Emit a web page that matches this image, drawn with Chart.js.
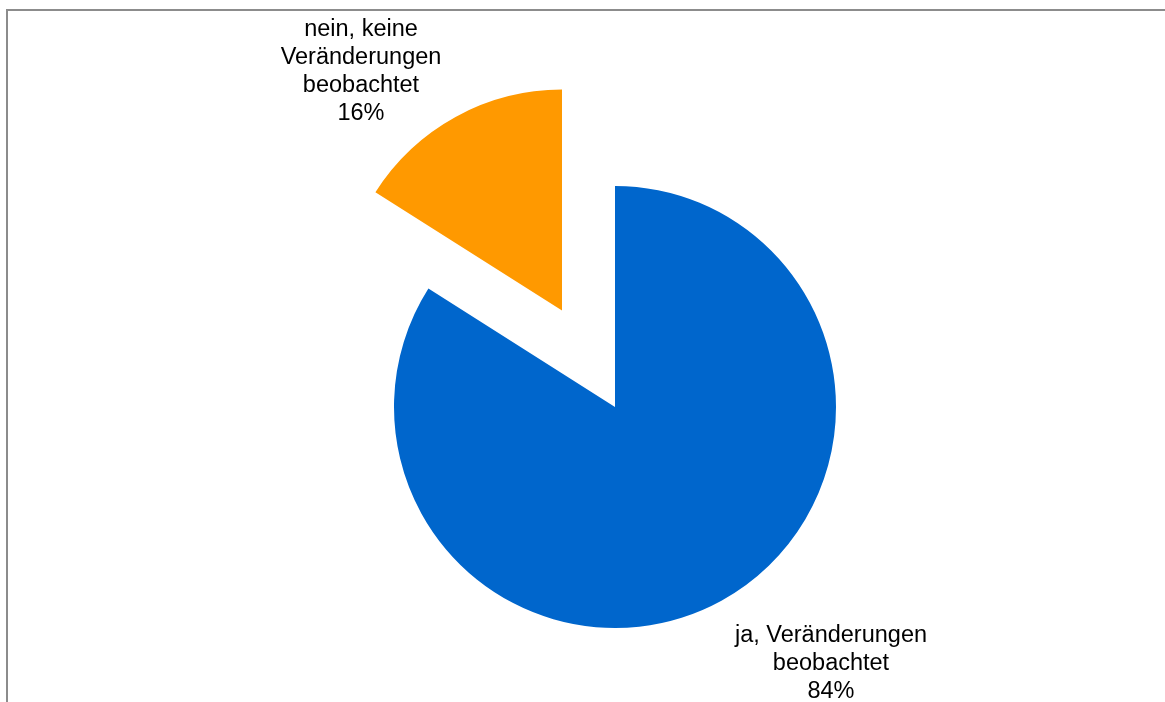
<!DOCTYPE html>
<html>
<head>
<meta charset="utf-8">
<script src="https://cdn.jsdelivr.net/npm/chart.js@4/dist/chart.umd.min.js"></script>
<style>
    html, body { margin: 0; padding: 0; background: #fff; overflow: hidden; }
    #wrap { position: relative; width: 1165px; height: 702px; }
    #frame {
        position: absolute; left: 6px; top: 9px; width: 1200px; height: 720px;
        border-left: 2px solid #8c8c8c; border-top: 2px solid #8c8c8c;
        pointer-events: none;
    }
    canvas { position: absolute; left: 0; top: 0; }
</style>
</head>
<body>
<div id="wrap">
    <canvas id="pieChart" width="1165" height="702"></canvas>
    <div id="frame"></div>
</div>
<script>
const categories = [
    ['ja, Veränderungen', 'beobachtet'],
    ['nein, keine', 'Veränderungen', 'beobachtet']
];
const shares = [84, 16];
const sliceColors = ['#0066cc', '#ff9900'];
const explodeBy = [0, 110];

// pulls a slice out along its mid angle without resizing it
const explodePlugin = {
    id: 'explode',
    afterDatasetUpdate(chart, args) {
        args.meta.data.forEach((arc, i) => {
            const d = explodeBy[i] || 0;
            if (!d) return;
            const mid = (arc.startAngle + arc.endAngle) / 2;
            arc.x += Math.cos(mid) * d;
            arc.y += Math.sin(mid) * d;
        });
    }
};

// multi-line category labels with percentage
const sliceLabels = {
    id: 'sliceLabels',
    afterDatasetsDraw(chart, args, opts) {
        const ctx = chart.ctx;
        ctx.save();
        ctx.font = opts.font;
        ctx.fillStyle = opts.color;
        ctx.textAlign = 'center';
        ctx.textBaseline = 'alphabetic';
        chart.data.labels.forEach((lines, i) => {
            const pos = opts.anchors[i];
            const all = lines.concat([chart.data.datasets[0].data[i] + '%']);
            all.forEach((t, k) => ctx.fillText(t, pos.x, pos.y + k * opts.lineHeight));
        });
        ctx.restore();
    }
};

const ctx = document.getElementById('pieChart').getContext('2d');
const pieChart = new Chart(ctx, {
    type: 'pie',
    data: {
        labels: categories,
        datasets: [{
            data: shares,
            backgroundColor: sliceColors,
            borderWidth: 0,
            radius: 221
        }]
    },
    options: {
        responsive: false,
        animation: false,
        events: [],
        layout: { padding: { left: 65, right: 0, top: 112, bottom: 0 } },
        plugins: {
            legend: { display: false },
            tooltip: { enabled: false },
            sliceLabels: {
                font: '23.5px "Liberation Sans", Arial, sans-serif',
                color: '#000',
                lineHeight: 28,
                anchors: [{ x: 831, y: 642 }, { x: 361, y: 36 }]
            }
        }
    },
    plugins: [explodePlugin, sliceLabels]
});
</script>
</body>
</html>
